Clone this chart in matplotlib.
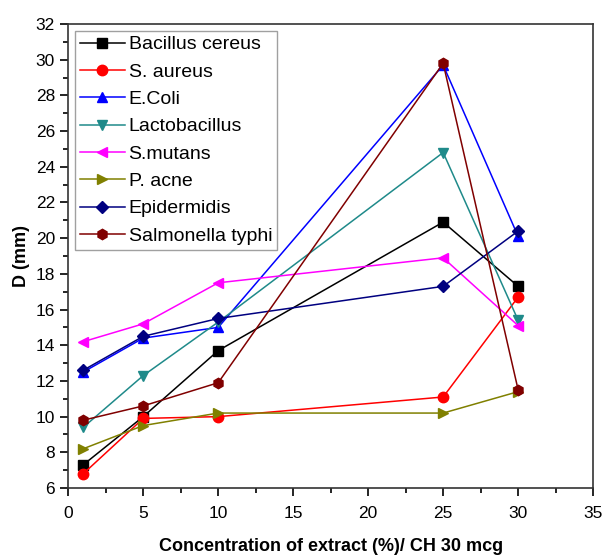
import matplotlib.pyplot as plt
from matplotlib.ticker import MultipleLocator

plt.rcParams['font.family'] = ['Liberation Sans', 'DejaVu Sans']

# 濃度 (%)
conc = [1, 5, 10, 25, 30]

bacillus = [7.3, 10.0, 13.7, 20.9, 17.3]
aureus = [6.8, 9.9, 10.0, 11.1, 16.7]
ecoli = [12.5, 14.4, 15.0, 29.7, 20.1]
lacto = [9.4, 12.3, 15.3, 24.8, 15.4]
mutans = [14.2, 15.2, 17.5, 18.9, 15.1]
acne = [8.2, 9.5, 10.2, 10.2, 11.4]
epid = [12.6, 14.5, 15.5, 17.3, 20.4]
salmonella = [9.8, 10.6, 11.9, 29.8, 11.5]

series = [
    ("Bacillus cereus", bacillus, "#000000", "s"),
    ("S. aureus", aureus, "#ff0000", "o"),
    ("E.Coli", ecoli, "#0000ff", "^"),
    ("Lactobacillus", lacto, "#1f8a8a", "v"),
    ("S.mutans", mutans, "#ff00ff", "<"),
    ("P. acne", acne, "#808000", ">"),
    ("Epidermidis", epid, "#000080", "D"),
    ("Salmonella typhi", salmonella, "#800000", "h"),
]

fig = plt.figure(figsize=(6.04, 5.59), dpi=100)
ax = fig.add_axes([0.113, 0.127, 0.869, 0.830])

for name, vals, col, mk in series:
    ms = 6 if mk == "D" else 7.5
    ax.plot(conc, vals, color=col, marker=mk, markersize=ms, linewidth=1.1,
            label=name)

ax.set_xlim(0, 35)
ax.set_ylim(6, 32)
ax.xaxis.set_major_locator(MultipleLocator(5))
ax.xaxis.set_minor_locator(MultipleLocator(2.5))
ax.yaxis.set_major_locator(MultipleLocator(2))
ax.yaxis.set_minor_locator(MultipleLocator(1))
ax.tick_params(which='major', direction='out', length=6, width=1.2,
               labelsize=12.5, top=False, right=False)
ax.tick_params(axis='x', which='major', pad=7)
ax.tick_params(which='minor', direction='out', length=3.5, width=1.2,
               top=False, right=False)
for s in ax.spines.values():
    s.set_linewidth(1.2)
    s.set_color('#333333')

ax.set_xlabel("Concentration of extract (%)/ CH 30 mcg", fontsize=13,
              fontweight='bold', labelpad=12)
ax.set_ylabel("D (mm)", fontsize=13, fontweight='bold', labelpad=4)

leg = ax.legend(loc='upper left', fontsize=14, frameon=True, fancybox=False,
                edgecolor='#888888', handlelength=2.3, handletextpad=0.2,
                labelspacing=0.5, borderpad=0.25, borderaxespad=0.35)
leg.get_frame().set_linewidth(1.0)

fig.savefig("out.png", dpi=100)
